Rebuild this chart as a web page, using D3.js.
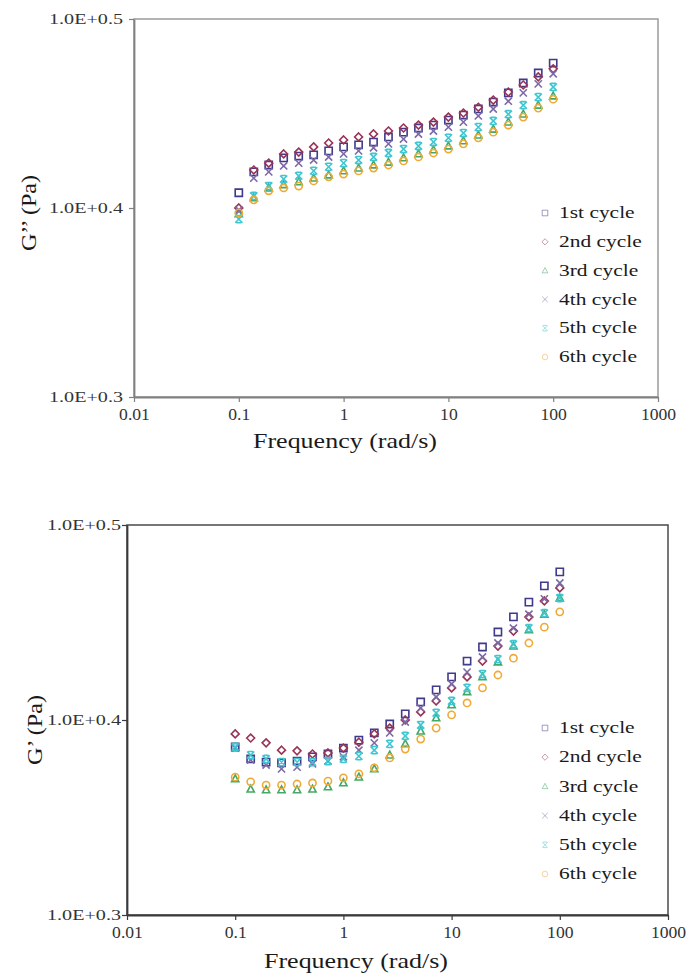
<!DOCTYPE html>
<html>
<head>
<meta charset="utf-8">
<script src="https://cdn.jsdelivr.net/npm/d3@7"></script>
<style>
body { margin: 0; background: #fff; }
text { font-family: "Liberation Serif", "Times New Roman", serif; }
</style>
</head>
<body>
<div id="chart_wrapper"></div>
<script>
// frequency sweep, rad/s
var freq = [0.1, 0.139, 0.193, 0.268, 0.373, 0.518, 0.72, 1, 1.39, 1.93, 2.68, 3.73, 5.18, 7.2, 10, 13.9, 19.3, 26.8, 37.3, 51.8, 72, 100];
var cycles = ["1st cycle", "2nd cycle", "3rd cycle", "4th cycle", "5th cycle", "6th cycle"];
var xTicks = [0.01, 0.1, 1, 10, 100, 1000];
var xTickLabels = ["0.01", "0.1", "1", "10", "100", "1000"];
var yExps = [0.3, 0.4, 0.5];
var yTickLabels = ["1.0E+0.3", "1.0E+0.4", "1.0E+0.5"];

// G'' (Pa)
var loss1 = [2.559, 2.625, 2.647, 2.670, 2.676, 2.680, 2.693, 2.706, 2.713, 2.722, 2.739, 2.755, 2.769, 2.779, 2.796, 2.813, 2.834, 2.858, 2.890, 2.925, 2.961, 2.997];
var loss2 = [2.512, 2.631, 2.653, 2.683, 2.689, 2.706, 2.719, 2.729, 2.739, 2.749, 2.759, 2.769, 2.779, 2.789, 2.806, 2.820, 2.840, 2.865, 2.893, 2.918, 2.947, 2.976];
var loss3 = [2.494, 2.543, 2.574, 2.584, 2.593, 2.605, 2.615, 2.628, 2.637, 2.647, 2.656, 2.670, 2.683, 2.696, 2.709, 2.726, 2.745, 2.765, 2.789, 2.816, 2.847, 2.879];
var loss4 = [2.506, 2.605, 2.625, 2.644, 2.653, 2.663, 2.673, 2.683, 2.693, 2.703, 2.716, 2.732, 2.749, 2.759, 2.772, 2.789, 2.810, 2.834, 2.861, 2.890, 2.922, 2.958];
var loss5 = [2.478, 2.549, 2.580, 2.602, 2.612, 2.628, 2.641, 2.653, 2.663, 2.673, 2.686, 2.699, 2.709, 2.722, 2.736, 2.752, 2.772, 2.793, 2.816, 2.847, 2.875, 2.911];
var loss6 = [2.497, 2.537, 2.565, 2.574, 2.580, 2.596, 2.609, 2.618, 2.628, 2.637, 2.647, 2.660, 2.673, 2.686, 2.699, 2.716, 2.736, 2.755, 2.779, 2.806, 2.837, 2.868];

// G' (Pa)
var store1 = [2.433, 2.399, 2.390, 2.388, 2.393, 2.405, 2.413, 2.430, 2.453, 2.474, 2.500, 2.530, 2.566, 2.603, 2.643, 2.693, 2.738, 2.787, 2.837, 2.887, 2.943, 2.992];
var store2 = [2.471, 2.459, 2.445, 2.424, 2.422, 2.413, 2.416, 2.430, 2.447, 2.471, 2.488, 2.512, 2.536, 2.569, 2.609, 2.643, 2.693, 2.741, 2.790, 2.837, 2.891, 2.936];
var store3 = [2.343, 2.315, 2.313, 2.313, 2.313, 2.315, 2.321, 2.332, 2.348, 2.371, 2.410, 2.442, 2.479, 2.518, 2.557, 2.597, 2.643, 2.690, 2.741, 2.794, 2.846, 2.901];
var store4 = [2.430, 2.396, 2.382, 2.371, 2.376, 2.385, 2.393, 2.405, 2.424, 2.445, 2.474, 2.506, 2.548, 2.581, 2.621, 2.658, 2.706, 2.751, 2.800, 2.846, 2.898, 2.953];
var store5 = [2.433, 2.410, 2.399, 2.390, 2.390, 2.390, 2.393, 2.399, 2.407, 2.424, 2.442, 2.465, 2.497, 2.533, 2.569, 2.609, 2.652, 2.699, 2.747, 2.800, 2.850, 2.901];
var store6 = [2.348, 2.335, 2.326, 2.326, 2.329, 2.332, 2.337, 2.346, 2.357, 2.374, 2.402, 2.427, 2.456, 2.488, 2.527, 2.563, 2.609, 2.649, 2.702, 2.751, 2.803, 2.854];

var colors = ["#3f3a8c", "#983457", "#46a866", "#7c6aa6", "#3ec6d2", "#f0a935"];
var shapes = ["square", "diamond", "triangle", "times", "star", "circle"];
var SX = 1.3; // wide serif look of the original lettering

var svg = d3.select("#chart_wrapper").append("svg").attr("width", 688).attr("height", 975);

function markerPath(shape, r) {
    if (shape == "square") return "M" + (-r) + "," + (-r) + "H" + r + "V" + r + "H" + (-r) + "Z";
    if (shape == "diamond") return "M0," + (-r * 1.1) + "L" + (r * 1.1) + ",0L0," + (r * 1.1) + "L" + (-r * 1.1) + ",0Z";
    if (shape == "triangle") return "M0," + (-r * 1.1) + "L" + r + "," + (r * 0.8) + "L" + (-r) + "," + (r * 0.8) + "Z";
    if (shape == "times") return "M" + (-r) + "," + (-r) + "L" + r + "," + r + "M" + r + "," + (-r) + "L" + (-r) + "," + r;
    if (shape == "star") return "M" + (-r) + "," + (-r) + "L" + r + "," + r + "M" + r + "," + (-r) + "L" + (-r) + "," + r +
        "M" + (-r * 0.7) + "," + (-r) + "H" + (r * 0.7) + "M" + (-r * 0.7) + "," + r + "H" + (r * 0.7);
    return d3.symbol(d3.symbolCircle, Math.PI * r * r)();
}

function drawChart(opt) {
    var g = svg.append("g");
    var x = d3.scaleLog().domain([0.01, 1000]).range([opt.left, opt.right]);
    var y = d3.scaleLog().domain([Math.pow(10, 0.3), Math.pow(10, 0.5)]).range([opt.bottom, opt.top]);

    // plot area border
    g.append("rect")
        .attr("x", opt.left).attr("y", opt.top)
        .attr("width", opt.right - opt.left).attr("height", opt.bottom - opt.top)
        .attr("fill", "none").attr("stroke", opt.frame).attr("stroke-width", 1.5);

    var xa = g.append("g").attr("transform", "translate(0," + opt.bottom + ")")
        .call(d3.axisBottom(x).tickValues(xTicks).tickFormat((d, i) => xTickLabels[i]).tickSize(5).tickSizeOuter(0).tickPadding(7));
    xa.select(".domain").attr("stroke", opt.axis).attr("stroke-width", 1.8);
    xa.selectAll("line").attr("stroke", opt.axis).attr("stroke-width", 1.2);
    xa.selectAll("text").attr("font-size", 16).attr("fill", "#333").attr("font-family", "Liberation Serif")
        .attr("transform", "scale(1.1,1)");

    var ya = g.append("g").attr("transform", "translate(" + opt.left + ",0)")
        .call(d3.axisLeft(y).tickValues(yExps.map((e) => Math.pow(10, e))).tickFormat((d, i) => yTickLabels[i]).tickSize(5).tickSizeOuter(0).tickPadding(opt.pad));
    ya.select(".domain").attr("stroke", opt.axis).attr("stroke-width", 1.8);
    ya.selectAll("line").attr("stroke", opt.axis).attr("stroke-width", 1.2);
    ya.selectAll("text").attr("font-size", 15.5).attr("fill", "#333").attr("font-family", "Liberation Serif")
        .attr("x", -(5 + opt.pad) / SX).attr("transform", "scale(" + SX + ",1)");

    opt.series.forEach(function(vals, s) {
        g.append("g").selectAll("path").data(freq).enter().append("path")
            .attr("transform", (d, i) => "translate(" + x(d) + "," + y(vals[i]) + ")")
            .attr("d", markerPath(shapes[s], 3.6))
            .attr("fill", "none").attr("stroke", colors[s]).attr("stroke-width", 1.6);
    });

    var leg = g.append("g");
    cycles.forEach(function(c, i) {
        var ly = opt.legendY + i * opt.legendStep;
        leg.append("path").attr("transform", "translate(" + opt.legendX + "," + ly + ")")
            .attr("d", markerPath(shapes[i], 2.8))
            .attr("fill", "none").attr("stroke", colors[i]).attr("stroke-width", 1).attr("opacity", 0.5);
        leg.append("text").attr("transform", "translate(" + (opt.legendX + 14) + "," + ly + ") scale(" + SX + ",1)")
            .attr("dy", "0.32em").attr("font-size", 16.5).attr("fill", "#1a1a1a").text(c);
    });

    g.append("text").attr("transform", "translate(" + opt.xTitleX + "," + opt.xTitleY + ") scale(" + SX + ",1)")
        .attr("text-anchor", "middle").attr("font-size", 20).attr("fill", "#1a1a1a").text("Frequency (rad/s)");
    g.append("text").attr("transform", "translate(" + opt.yTitleX + "," + opt.yTitleY + ") rotate(-90) scale(1.15,1)")
        .attr("text-anchor", "middle").attr("dy", "0.35em").attr("font-size", 21).attr("fill", "#1a1a1a").text(opt.yTitle);
}

drawChart({
    left: 134, right: 658, top: 19, bottom: 397,
    frame: "#9a9a9a", axis: "#808080", pad: 6,
    series: [loss1, loss2, loss3, loss4, loss5, loss6],
    legendX: 545, legendY: 213, legendStep: 28.8,
    xTitleX: 345, xTitleY: 448, yTitleX: 29, yTitleY: 213,
    yTitle: "G\u2019\u2019 (Pa)"
});

drawChart({
    left: 127, right: 668, top: 525, bottom: 915,
    frame: "#4a4a4a", axis: "#3a3a3a", pad: 1,
    series: [store1, store2, store3, store4, store5, store6],
    legendX: 545, legendY: 728, legendStep: 29.2,
    xTitleX: 356, xTitleY: 968, yTitleX: 35, yTitleY: 730,
    yTitle: "G\u2019 (Pa)"
});
</script>
</body>
</html>
